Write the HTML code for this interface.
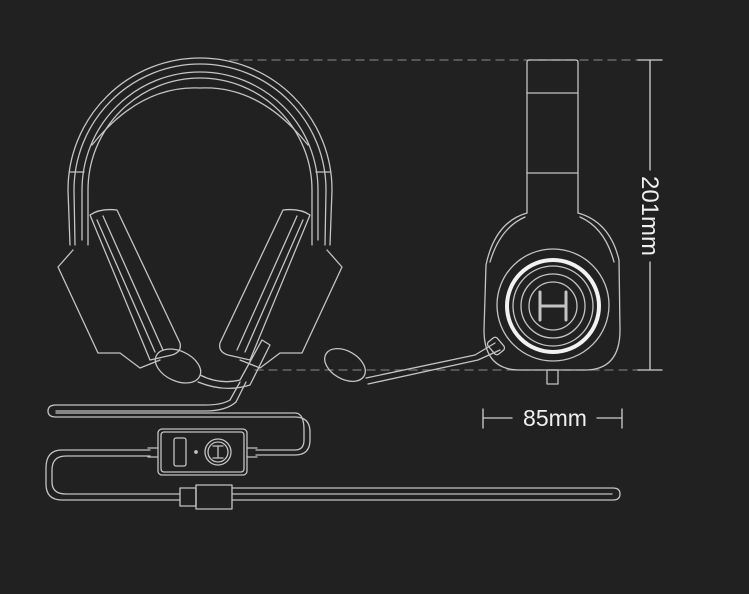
<!DOCTYPE html>
<html><head><meta charset="utf-8"><style>
html,body{margin:0;padding:0;background:#212121;}
svg{display:block}
text{font-family:"Liberation Sans",sans-serif;fill:#f0f0f0}
</style></head><body>
<svg width="749" height="594" viewBox="0 0 749 594" xmlns="http://www.w3.org/2000/svg">
<rect width="749" height="594" fill="#212121"/>
<g fill="none" stroke="#c4c4c4" stroke-width="1.3" stroke-linecap="round" stroke-linejoin="round">
<line x1="230" y1="60" x2="640" y2="60" stroke="#777" stroke-dasharray="8,6"/>
<line x1="255" y1="370" x2="640" y2="370" stroke="#777" stroke-dasharray="8,6"/>
<path d="M70 245 L68 190 A132 132 0 0 1 332 190 L330 245"/>
<path d="M75 245 L74 190 A126 126 0 0 1 326 190 L325 245"/>
<path d="M82 240 L82 190 A118 118 0 0 1 318 190 L318 240"/>
<path d="M88 245 L88 190 A112 112 0 0 1 312 190 L312 245"/>
<path d="M92 145 Q140 85 200 88 Q260 85 308 145"/>
<line x1="70" y1="172" x2="84" y2="172"/><line x1="316" y1="172" x2="330" y2="172"/>
<path d="M73 250 L58 267 L98 353 L120 353 L140 368 L160 360"/>
<path d="M90 215 Q100 208 117 210 L180 343 Q182 352 172 355 L150 360 Z"/>
<path d="M97 220 L155 352"/><path d="M103 216 L163 350"/>
<path d="M327 250 L342 267 L302 353 L280 353 L260 368 L240 360"/>
<path d="M310 215 Q300 208 283 210 L220 343 Q218 352 228 355 L250 360 Z"/>
<path d="M303 220 L245 352"/><path d="M297 216 L237 350"/>
<ellipse cx="178" cy="366" rx="24" ry="15" transform="rotate(25 178 366)"/>
<path d="M200 375 Q220 385 240 380 L262 340 L270 345 L250 385 Q225 393 198 382"/>
<path d="M240 382 L230 400"/><path d="M246 382 L236 402"/>
<!-- cable -->
<path d="M230 400 Q222 405 205 405 L56 405 Q48 405 48 411 Q48 417 56 417 L295 417 Q310 417 310 432 L310 440 Q310 455 295 455 L256 455"/>
<path d="M236 402 Q226 411 205 411 L56 411 M56 413 L295 413 Q304 413 304 430 L304 440 Q304 450 295 450 L256 450"/>
<path d="M150 450 L62 450 Q46 450 46 468 L46 484 Q46 500 62 500 L180 500"/>
<path d="M150 456 L66 456 Q52 456 52 470 L52 482 Q52 494 66 494 L180 494"/>
<path d="M232 488 L613 488 Q620 488 620 494 Q620 500 613 500 L232 500"/>
<path d="M232 494 L612 494"/>
<rect x="158" y="429" width="89" height="46" rx="4"/>
<rect x="161" y="432" width="83" height="40" rx="3"/>
<line x1="148" y1="448" x2="158" y2="448"/><line x1="148" y1="457" x2="158" y2="457"/>
<line x1="247" y1="448" x2="257" y2="448"/><line x1="247" y1="457" x2="257" y2="457"/>
<rect x="174" y="438" width="12" height="28" rx="2"/>
<circle cx="218" cy="452" r="13"/><circle cx="218" cy="452" r="10"/>
<path d="M213 446 L223 446 M218 446 L218 458 M213 458 L223 458"/>
<circle cx="196" cy="452" r="1.2" fill="#c4c4c4"/>
<rect x="196" y="485" width="36" height="24"/>
<rect x="180" y="488" width="16" height="18"/>
<!-- side view -->
<path d="M527 213 L527 62 Q527 60 530 60 L575 60 Q578 60 578 62 L578 213"/>
<line x1="527" y1="93" x2="578" y2="93"/><line x1="527" y1="173" x2="578" y2="173"/>
<path d="M527 213 Q495 222 486 265 L484 330 Q484 370 520 370 L585 370 Q620 370 620 330 L619 260 Q610 222 578 213"/>
<path d="M525 217 Q500 228 490 262"/><path d="M580 217 Q605 228 614 262"/>
<circle cx="553" cy="305" r="56"/>
<circle cx="553" cy="306" r="46" stroke="#f2f2f2" stroke-width="4"/>
<circle cx="553" cy="306" r="40"/>
<circle cx="553" cy="306" r="32"/><circle cx="553" cy="306" r="24"/>
<path d="M540 292 L540 320 M566 292 L566 320 M540 306 L566 306" stroke-width="3"/>
<rect x="547" y="370" width="11" height="14"/>
<ellipse cx="345" cy="365" rx="22" ry="14" transform="rotate(30 345 365)"/>
<path d="M366 378 L475 355 L495 343 M368 384 L478 360 L500 350"/>
<rect x="490" y="338" width="12" height="16" rx="3" transform="rotate(-40 496 346)"/>
<path d="M638 60 L662 60 M650 60 L650 170 M650 262 L650 370 M638 370 L662 370" stroke="#d0d0d0"/>
<path d="M483 409 L483 428 M483 418 L512 418 M597 418 L622 418 M622 409 L622 428" stroke="#d0d0d0"/>
</g>
<text x="555" y="426" font-size="23" text-anchor="middle">85mm</text>
<text transform="translate(642 216) rotate(90)" font-size="24" text-anchor="middle">201mm</text>
</svg>
</body></html>
